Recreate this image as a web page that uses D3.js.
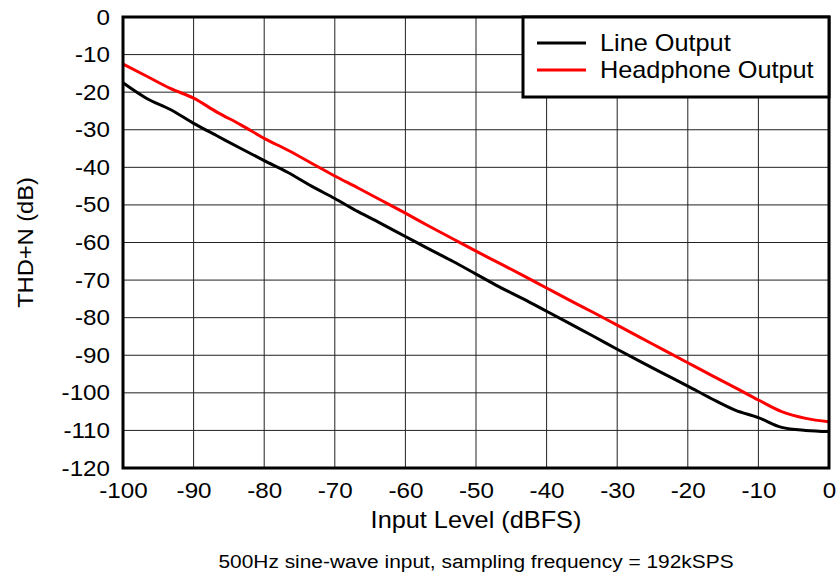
<!DOCTYPE html>
<html>
<head>
<meta charset="utf-8">
<script src="https://cdn.jsdelivr.net/npm/d3@7"></script>
<style>
  body { margin: 0; background: #fff; }
  text { font-family: "Liberation Sans", Arial, sans-serif; fill: #000; }
</style>
</head>
<body>
<div id="chart"></div>
<script>
const width = 839,
  height = 580,
  margin = { top: 17, right: 10, bottom: 112, left: 123 },
  stretch = 1.1;

// input level (dBFS)
const inputLevel = [-100, -96.7, -93.3, -90, -86.7, -83.3, -80, -76.7, -73.3, -70,
  -66.7, -63.3, -60, -56.7, -53.3, -50, -46.7, -43.3, -40, -36.7, -33.3, -30,
  -26.7, -23.3, -20, -16.7, -13.3, -10, -6.7, -3.3, 0];

// THD+N (dB)
const lineOutput = [-17.5, -21.6, -24.6, -28.3, -31.6, -35, -38.2, -41.3, -45, -48.3,
  -51.8, -55.1, -58.4, -61.7, -65, -68.4, -71.8, -75, -78.3, -81.6, -85, -88.4,
  -91.7, -95, -98.2, -101.5, -104.6, -106.6, -109.2, -110, -110.3];
const headphoneOutput = [-12.5, -15.7, -19, -21.6, -25.3, -28.7, -32.3, -35.4, -38.9, -42.3,
  -45.5, -48.9, -52.2, -55.6, -59, -62.3, -65.5, -68.8, -72.1, -75.4, -78.7, -82,
  -85.3, -88.7, -92, -95.3, -98.6, -101.9, -105, -106.8, -107.7];

const seriesNames = ["Line Output", "Headphone Output"];
const seriesColors = ["#000000", "#ff0000"];

const xTicks = d3.range(-100, 1, 10);
const yTicks = d3.range(-120, 1, 10);

const svg = d3.select("#chart")
  .append("svg")
  .attr("width", width)
  .attr("height", height);

const xScale = d3.scaleLinear()
  .domain([-100, 0])
  .range([margin.left, 829]);

const yScale = d3.scaleLinear()
  .domain([-120, 0])
  .range([468, margin.top]);

// the reference's lettering is a little wider than Liberation Sans
function label(x, y, txt, size, anchor, rot) {
  return svg.append("text")
    .attr("transform", `translate(${x},${y})` + (rot ? ` rotate(${rot})` : "") + ` scale(${stretch},1)`)
    .attr("text-anchor", anchor || "start")
    .style("font-size", size + "px")
    .text(txt);
}

// grid
svg.append("g")
  .selectAll("line")
  .data(xTicks.slice(1, -1))
  .join("line")
  .attr("x1", d => xScale(d)).attr("x2", d => xScale(d))
  .attr("y1", yScale(0)).attr("y2", yScale(-120))
  .attr("stroke", "#222").attr("stroke-width", 1);

svg.append("g")
  .selectAll("line")
  .data(yTicks.slice(1, -1))
  .join("line")
  .attr("x1", xScale(-100)).attr("x2", xScale(0))
  .attr("y1", d => yScale(d)).attr("y2", d => yScale(d))
  .attr("stroke", "#222").attr("stroke-width", 1);

// series
const line = d3.line()
  .x((d, i) => xScale(inputLevel[i]))
  .y(d => yScale(d))
  .curve(d3.curveMonotoneX);

[lineOutput, headphoneOutput].forEach((vals, k) => {
  svg.append("path")
    .datum(vals)
    .attr("d", line)
    .attr("fill", "none")
    .attr("stroke", seriesColors[k])
    .attr("stroke-width", 3)
    .attr("stroke-linejoin", "round");
});

// frame
svg.append("rect")
  .attr("x", xScale(-100))
  .attr("y", yScale(0))
  .attr("width", xScale(0) - xScale(-100))
  .attr("height", yScale(-120) - yScale(0))
  .attr("fill", "none")
  .attr("stroke", "#000")
  .attr("stroke-width", 3);

// axes
const fmt = d => String(d);
const xAxis = d3.axisBottom(xScale).tickValues(xTicks).tickFormat(fmt).tickSize(0).tickPadding(14);
const yAxis = d3.axisLeft(yScale).tickValues(yTicks).tickFormat(fmt).tickSize(0).tickPadding(12);

svg.append("g")
  .attr("transform", `translate(0,${yScale(-120)})`)
  .call(xAxis)
  .call(g => g.select(".domain").remove())
  .selectAll("text")
  .attr("transform", `scale(${stretch},1)`)
  .style("font-size", "22px");

svg.append("g")
  .attr("transform", `translate(${xScale(-100)},0)`)
  .call(yAxis)
  .call(g => g.select(".domain").remove())
  .selectAll("text")
  .attr("x", -13 / stretch)
  .attr("transform", `scale(${stretch},1)`)
  .style("font-size", "22px");

label((xScale(-100) + xScale(0)) / 2, 528, "Input Level (dBFS)", 23, "middle");
label(33, yScale(-60), "THD+N (dB)", 21.5, "middle", -90);
label((xScale(-100) + xScale(0)) / 2, 568, "500Hz sine-wave input, sampling frequency = 192kSPS", 19, "middle");

// legend
const legend = svg.append("g");
legend.append("rect")
  .attr("x", 523).attr("y", yScale(0))
  .attr("width", xScale(0) - 523).attr("height", 80)
  .attr("fill", "#fff")
  .attr("stroke", "#000")
  .attr("stroke-width", 3);

seriesNames.forEach((name, k) => {
  const y = 43 + k * 27;
  legend.append("line")
    .attr("x1", 537).attr("x2", 586)
    .attr("y1", y).attr("y2", y)
    .attr("stroke", seriesColors[k])
    .attr("stroke-width", 3);
  label(600, y + 8, name, 23, "start");
});
</script>
</body>
</html>
